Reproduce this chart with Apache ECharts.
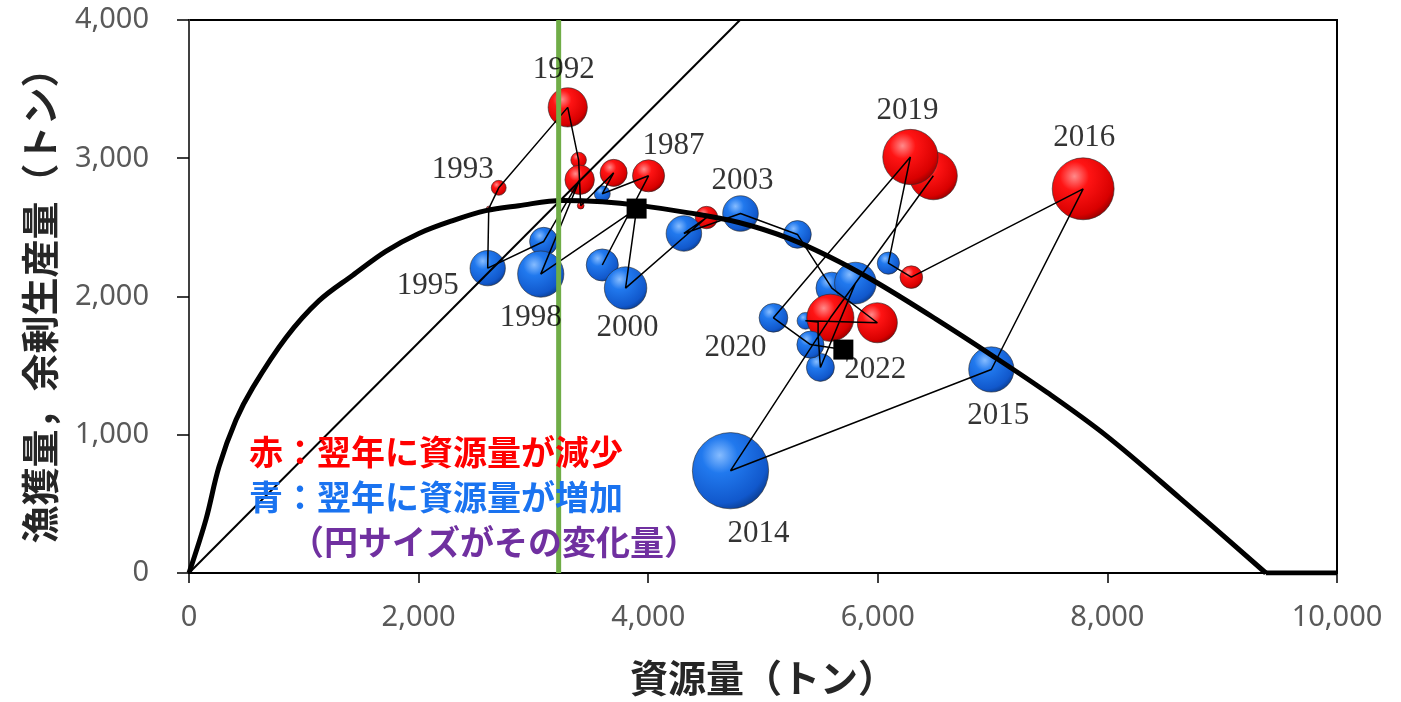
<!DOCTYPE html>
<html>
<head>
<meta charset="utf-8">
<script src="https://cdn.jsdelivr.net/npm/echarts@6.0.0/dist/echarts.min.js"></script>
<style>
html,body{margin:0;padding:0;background:#fff;}
#chart{width:1401px;height:702px;}
</style>
</head>
<body>
<div id="chart"></div>
<script>
// ---- data ----
const years = [1986,1987,1988,1989,1990,1991,1992,1993,1994,1995,1996,1997,1998,1999,2000,2001,2002,2003,2004,2005,2006,2007,2008,2009,2010,2011,2012,2013,2014,2015,2016,2017,2018,2019,2020,2021,2022];
// 資源量 (biomass, t)
const biomass = [3600,4003,3600,3699,3412,3394,3299,2698,2611,2602,3090,3403,3064,3899,3803,4508,4311,4804,5300,5600,5996,5370,5480,5480,5500,5805,6484,5587,4717,6989,7789,6292,6092,6284,5091,5413,5700];
// 漁獲量 (catch, t)
const catchT = [2228,2873,2743,2894,2657,2987,3368,2786,2636,2205,2398,2844,2162,2636,2061,2571,2456,2600,2449,2061,1810,1824,1815,1720,1487,2097,2873,1846,740,1472,2779,2140,2241,3009,1846,1652,1616];
// 余剰生産量曲線 (surplus production curve), rising/falling part
const curveB = [0,148,261,409,557,844,1131,1427,1714,2002,2298,2585,2872,3250,3600,3920,4355,4790,5225,5660,6023,6500,6980,7473,7995,8634,9380];
const curveP = [0,388,768,1106,1343,1702,1968,2154,2327,2456,2549,2621,2657,2695,2685,2659,2605,2535,2420,2253,2085,1840,1582,1307,990,540,0];
// flat part of the curve
const flatB = [9380,10000];
const flatP = [0,0];
// straight reference line through origin
const refLineB = [0,4800];
const refLineP = [0,4000];
// green vertical line (Bmsy)
const bmsy = 3220;
// highlighted points (black squares)
const squareYears = [1999,2022];
// labelled years
const labelYears = [1987,1992,1993,1995,1998,2000,2003,2014,2015,2016,2019,2020,2022];
// axis ticks
const xTicks = {min:0,max:10000,interval:2000};
const yTicks = {min:0,max:4000,interval:1000};
const legendLines = ['赤：翌年に資源量が減少','青：翌年に資源量が増加','（円サイズがその変化量）'];

// ---- styles ----
const labelOffsets = {1987:[25,-30],1992:[-4,-38],1993:[-36,-18],1995:[-60,18],1998:[-10,44],2000:[2,40],2003:[2,-33],2014:[28,63],2015:[7,46],2016:[1,-51],2019:[-3,-46],2020:[-38,30],2022:[32,20]};
function grad(c0,c1,c2,c3){
  return {type:'radial',x:0.36,y:0.3,r:0.78,colorStops:[
    {offset:0,color:c0},{offset:0.3,color:c1},{offset:0.8,color:c2},{offset:1,color:c3}]};
}
const redFill = grad('#ff8a8a','#ff1414','#d80000','#850000');
const blueFill = grad('#86bcff','#2179ee','#1158cc','#093683');

const bubbleData = [];
for (let i = 0; i < years.length - 1; i++) {
  const d = biomass[i+1] - biomass[i];
  bubbleData.push({
    value:[biomass[i], catchT[i]],
    symbolSize: Math.max(4, 1.6*Math.sqrt(Math.abs(d))),
    itemStyle:{color: d < 0 ? redFill : blueFill, borderColor:'#2a2a2a', borderWidth:0.6, opacity:1}
  });
}
const pathData = years.map((y,i)=>[biomass[i],catchT[i]]);
const curveData = curveB.map((b,i)=>[b,curveP[i]]);
const flatData = flatB.map((b,i)=>[b,flatP[i]]);
const refData = refLineB.map((b,i)=>[b,refLineP[i]]);
const squareData = squareYears.map(y=>{const i=years.indexOf(y);return [biomass[i],catchT[i]];});
const labelData = labelYears.map(y=>{
  const i = years.indexOf(y);
  return {value:[biomass[i],catchT[i]], name:String(y), label:{offset:labelOffsets[y]}};
});

const chart = echarts.init(document.getElementById('chart'), null, {renderer:'canvas'});
const fmt = v => v.toLocaleString('en-US');
const nameStyle = {fontSize:38,fontWeight:'bold',color:'#262626',fontFamily:'"Noto Sans CJK JP"'};
const legendFont = {fontSize:34, fontWeight:'bold', fontFamily:'"Noto Sans CJK JP"', verticalAlign:'middle'};
chart.setOption({
  animation:false,
  backgroundColor:'#fff',
  grid:{left:189,right:64,top:20,bottom:125,show:true,borderColor:'#000',borderWidth:2,backgroundColor:'transparent'},
  xAxis:{
    type:'value', min:xTicks.min, max:xTicks.max, interval:xTicks.interval,
    name:'資源量（トン）', nameLocation:'middle', nameGap:86, nameTextStyle:nameStyle,
    axisLine:{show:true,onZero:false,lineStyle:{color:'#000',width:2}},
    axisTick:{show:true,inside:false,length:10,lineStyle:{color:'#000',width:1.5}},
    axisLabel:{formatter:fmt,fontSize:29,color:'#595959',margin:30,fontFamily:'"Noto Sans"'},
    splitLine:{show:false}
  },
  yAxis:{
    type:'value', min:yTicks.min, max:yTicks.max, interval:yTicks.interval,
    name:'漁獲量，余剰生産量（トン）', nameLocation:'middle', nameGap:130, nameRotate:90, nameTextStyle:nameStyle,
    axisLine:{show:true,onZero:false,lineStyle:{color:'#404040',width:2}},
    axisTick:{show:true,inside:false,length:12,lineStyle:{color:'#000',width:1.5}},
    axisLabel:{formatter:fmt,fontSize:29,color:'#595959',margin:40,fontFamily:'"Noto Sans"'},
    splitLine:{show:false}
  },
  series:[
    {type:'scatter', z:2, data:bubbleData, symbol:'circle', silent:true},
    {type:'line', z:3, data:pathData, symbol:'none', lineStyle:{color:'#000',width:1.5}, silent:true},
    {type:'line', z:3, data:refData, symbol:'none', lineStyle:{color:'#000',width:2}, silent:true},
    {type:'line', z:4, data:curveData, symbol:'none', smooth:0.35, lineStyle:{color:'#000',width:5}, silent:true},
    {type:'line', z:4, data:flatData, symbol:'none', lineStyle:{color:'#000',width:5}, silent:true},
    {type:'scatter', z:5, data:squareData, symbol:'rect', symbolSize:20, itemStyle:{color:'#000',opacity:1}, silent:true},
    {type:'line', z:6, data:[[bmsy,yTicks.min],[bmsy,yTicks.max]], symbol:'none', lineStyle:{color:'#70AD47',width:5}, silent:true},
    {type:'scatter', z:7, data:labelData, symbolSize:0, silent:true,
      label:{show:true, position:'inside', formatter:p=>p.name, fontSize:31, color:'#000', fontFamily:'"Liberation Serif"'}}
  ],
  graphic:[
    {type:'text', x:249, y:452, z:10, style:Object.assign({text:legendLines[0], fill:'#ff0000'}, legendFont)},
    {type:'text', x:249, y:497, z:10, style:Object.assign({text:legendLines[1], fill:'#1a73f0'}, legendFont)},
    {type:'text', x:290, y:542, z:10, style:Object.assign({text:legendLines[2], fill:'#7030a0'}, legendFont)}
  ]
});
</script>
</body>
</html>
